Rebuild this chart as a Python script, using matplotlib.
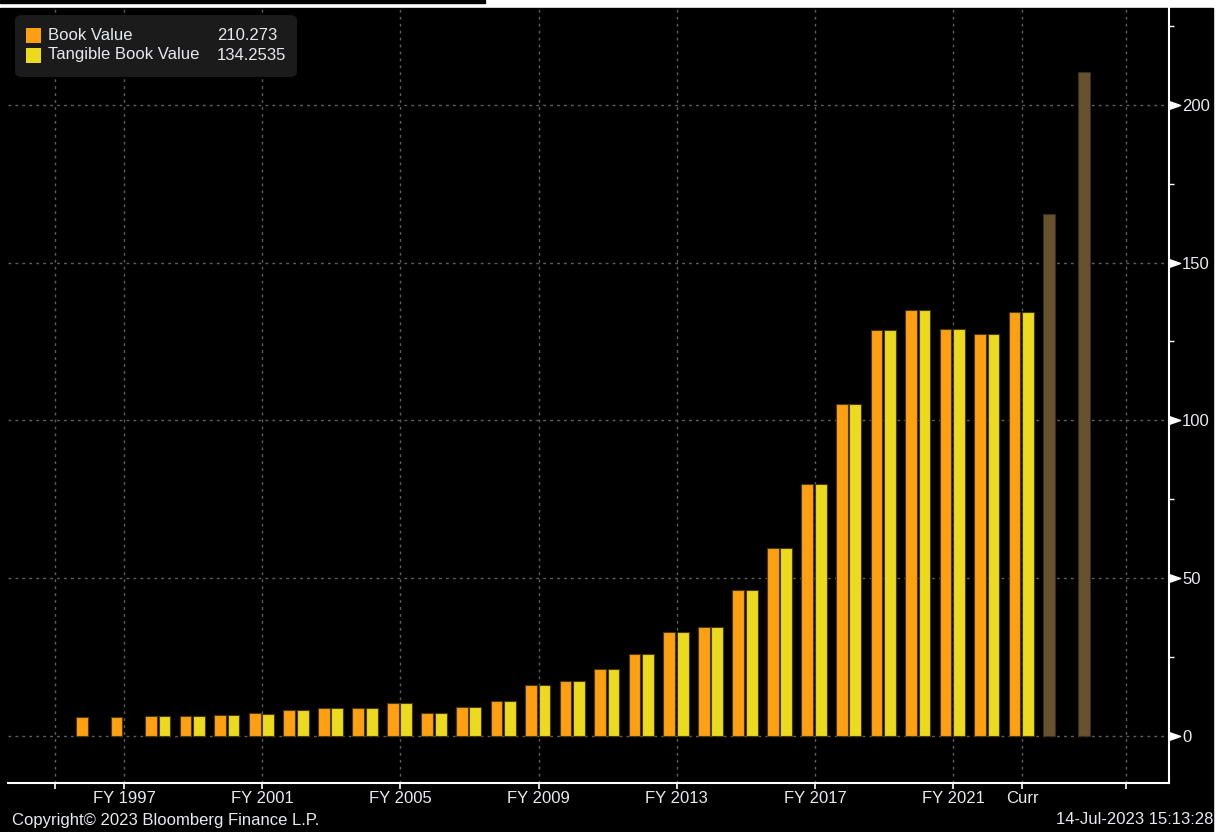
import numpy as np
import matplotlib
matplotlib.use("Agg")
import matplotlib.pyplot as plt
from matplotlib.patches import Rectangle, FancyBboxPatch
from matplotlib.path import Path
import matplotlib.transforms as mtransforms

# data
years = [1996, 1997, 1998, 1999, 2000, 2001, 2002, 2003, 2004, 2005, 2006,
         2007, 2008, 2009, 2010, 2011, 2012, 2013, 2014, 2015, 2016, 2017,
         2018, 2019, 2020, 2021, 2022, 2023, 2024, 2025]
book_value = [5.8, 5.8, 6.2, 6.2, 6.7, 7.1, 8.0, 8.7, 8.7, 10.4, 7.2,
              9.0, 11.0, 16.1, 17.4, 21.2, 25.9, 32.8, 34.4, 46.3, 59.5, 79.7,
              105.3, 128.5, 135.0, 128.9, 127.4, 134.4, 165.5, 210.273]
tangible_book_value = [np.nan, np.nan, 6.2, 6.2, 6.7, 7.0, 8.0, 8.7, 8.7, 10.4, 7.2,
                       9.0, 11.0, 16.1, 17.4, 21.2, 25.9, 32.8, 34.4, 46.3, 59.5, 79.7,
                       105.3, 128.5, 135.0, 128.9, 127.4, 134.2535, np.nan, np.nan]
current_year = 2023
tick_years = [1995, 1997, 2001, 2005, 2009, 2013, 2017, 2021, 2023, 2026]
tick_labels = ["", "FY 1997", "FY 2001", "FY 2005", "FY 2009", "FY 2013",
               "FY 2017", "FY 2021", "Curr", ""]
y_major = [0, 50, 100, 150, 200]
y_minor = [25, 75, 125, 175, 225]

W, H, DPI = 1221, 832, 100
ORANGE = "#ff9f12"
YELLOW = "#ecda1e"
BROWN = "#67512f"
EDGE = "#4a3b0c"
TXT = "#e8eaee"
GRID = "#5e5e5e"

plt.rcParams["font.family"] = ["Liberation Sans", "DejaVu Sans"]
plt.rcParams["font.size"] = 12

fig = plt.figure(figsize=(W / DPI, H / DPI), dpi=DPI, facecolor="white")
px = mtransforms.Affine2D().scale(1 / DPI) + fig.dpi_scale_trans  # pixel coords, origin bottom-left

# black panel + the thin black strip at the very top
fig.patches.append(Rectangle((0, 0), 1213, H - 8, transform=px, color="black", zorder=-10))
fig.patches.append(Rectangle((0, H - 3), 485, 3, transform=px, color="black", zorder=-10))

ax = fig.add_axes([8 / W, 49 / H, (1169 - 8) / W, (783 - 8) / H])
ax.set_facecolor("black")

x = np.array(years, dtype=float)
bv = np.array(book_value)
tbv = np.array(tangible_book_value)
bv_colors = [ORANGE if yr <= current_year else BROWN for yr in years]
bv_edges = [EDGE if yr <= current_year else "#3a2e1a" for yr in years]

ax.bar(x - 0.22, bv, width=0.34, color=bv_colors, edgecolor=bv_edges, linewidth=0.8, zorder=3)
ax.bar(x + 0.17, tbv, width=0.34, color=YELLOW, edgecolor=EDGE, linewidth=0.8, zorder=3)

ax.set_xlim(1993.64, 2027.25)
ax.set_ylim(-15, 230.7)

ax.set_xticks(tick_years)
ax.set_xticklabels(tick_labels)
ax.yaxis.tick_right()
ax.set_yticks(y_major)
ax.set_yticks(y_minor, minor=True)

ax.grid(True, which="major", color=GRID, linestyle=(0, (2, 3)), linewidth=1, zorder=1)

for side in ["left", "top"]:
    ax.spines[side].set_visible(False)
for side in ["bottom", "right"]:
    ax.spines[side].set_color("white")
    ax.spines[side].set_linewidth(1.5)

ax.tick_params(axis="x", which="major", direction="out", length=4, width=1.2,
               color="white", labelcolor=TXT, labelsize=12, pad=2)
ax.tick_params(axis="y", which="major", length=8, width=1, color="white",
               labelcolor=TXT, labelsize=12, pad=1.5)
ax.tick_params(axis="y", which="minor", length=3.5, width=1, color="white")

# Bloomberg style arrow heads on the value axis
tri = Path([(0, -0.35), (1, 0), (0, 0.35), (0, -0.35)],
           [Path.MOVETO, Path.LINETO, Path.LINETO, Path.CLOSEPOLY])
for t in ax.yaxis.get_major_ticks(len(y_major)):
    t.tick2line.set_marker(tri)
    t.tick2line.set_markersize(16)
    t.tick2line.set_markerfacecolor("white")
    t.tick2line.set_markeredgecolor("white")

# legend box
fig.patches.append(FancyBboxPatch((15, H - 77), 282, 62, boxstyle="round,pad=0,rounding_size=6",
                                  transform=px, facecolor="#1b1b1b", edgecolor="none", zorder=5))
legend_rows = [("Book Value", ORANGE, bv[~np.isnan(bv)][-1]),
               ("Tangible Book Value", YELLOW, tbv[~np.isnan(tbv)][-1])]
for i, (name, col, val) in enumerate(legend_rows):
    yc = 35 + 20 * i
    fig.patches.append(Rectangle((26, H - yc - 7.5), 15, 15, transform=px,
                                 facecolor=col, edgecolor="none", zorder=6))
    fig.text(48, H - yc, name, transform=px, color=TXT, fontsize=12, va="center", zorder=7)
    fig.text(217, H - yc, str(float(val)), transform=px, color=TXT, fontsize=12,
             va="center", zorder=7)

fig.text(12, H - 820, "Copyright\u00a9 2023 Bloomberg Finance L.P.", transform=px,
         color=TXT, fontsize=12, va="center")
fig.text(1213, H - 820, "14-Jul-2023 15:13:28", transform=px,
         color=TXT, fontsize=12, va="center", ha="right")

fig.savefig("out.png", dpi=DPI, facecolor="white")
